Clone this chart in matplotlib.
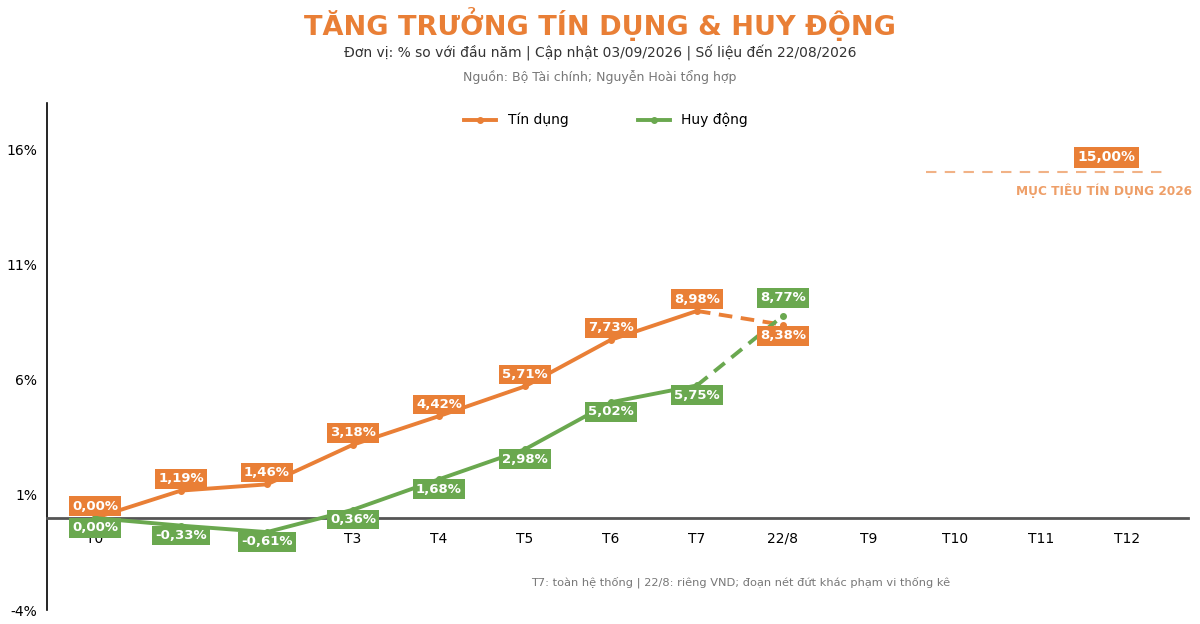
import matplotlib
matplotlib.use("Agg")
from matplotlib import pyplot as plt

months = ["T0", "T1", "T2", "T3", "T4", "T5", "T6", "T7", "22/8", "T9", "T10", "T11", "T12"]
tin_dung = [0.00, 1.19, 1.46, 3.18, 4.42, 5.71, 7.73, 8.98, 8.38]
huy_dong = [0.00, -0.33, -0.61, 0.36, 1.68, 2.98, 5.02, 5.75, 8.77]
muc_tieu = 15.00

ORANGE = "#E97F36"
GREEN = "#6AA84F"


def fmt(v):
    return f"{v:.2f}%".replace(".", ",")


fig = plt.figure(figsize=(12, 6.24), dpi=100)
ax = fig.add_axes([0.039, 0.022, 0.951, 0.813])

x = list(range(len(months)))
n_solid = 8  # T0..T7 la net lien, doan cuoi net dut

ax.plot(x[:n_solid], tin_dung[:n_solid], color=ORANGE, lw=2.8, marker="o", ms=4, label="Tín dụng", zorder=3)
ax.plot(x[n_solid - 1:len(tin_dung)], tin_dung[n_solid - 1:], color=ORANGE, lw=2.8, ls=(0, (3.5, 2.2)),
        marker="o", ms=4, markevery=[1], zorder=3)
ax.plot(x[:n_solid], huy_dong[:n_solid], color=GREEN, lw=2.8, marker="o", ms=4, label="Huy động", zorder=3)
ax.plot(x[n_solid - 1:len(huy_dong)], huy_dong[n_solid - 1:], color=GREEN, lw=2.8, ls=(0, (3.5, 2.2)),
        marker="o", ms=4, markevery=[1], zorder=3)

# nhan gia tri
for i, v in enumerate(tin_dung):
    above = i != len(tin_dung) - 1
    ax.annotate(fmt(v), (i, v), xytext=(0, 8.5 if above else -8), textcoords="offset points",
                ha="center", va="center", color="white", fontsize=9.5, fontweight="bold",
                bbox=dict(boxstyle="square,pad=0.25", fc=ORANGE, ec="none"), zorder=5)
for i, v in enumerate(huy_dong):
    above = i == len(huy_dong) - 1
    ax.annotate(fmt(v), (i, v), xytext=(0, 13 if above else -7), textcoords="offset points",
                ha="center", va="center", color="white", fontsize=9.5, fontweight="bold",
                bbox=dict(boxstyle="square,pad=0.25", fc=GREEN, ec="none"), zorder=5)

# muc tieu
ax.axhline(muc_tieu, xmin=0.77, xmax=0.98, color=ORANGE, alpha=0.6, lw=1.5, ls=(0, (5, 4)))
ax.text(11.76, muc_tieu + 0.65, fmt(muc_tieu), ha="center", va="center", color="white",
        fontsize=10, fontweight="bold", bbox=dict(boxstyle="square,pad=0.25", fc=ORANGE, ec="none"))
ax.text(12.76, muc_tieu - 0.8, "MỤC TIÊU TÍN DỤNG 2026", ha="right", va="center", color=ORANGE,
        alpha=0.75, fontsize=8.7, fontweight="bold", clip_on=False)

ax.set_xlim(-0.56, 12.71)
ax.set_ylim(-4, 18)
ax.set_xticks(x)
ax.set_xticklabels(months, fontsize=10)
ax.set_yticks([-4, 1, 6, 11, 16])
ax.set_yticklabels(["-4%", "1%", "6%", "11%", "16%"], fontsize=10)
ax.tick_params(axis="y", length=0, pad=7)
ax.tick_params(axis="x", length=0, pad=10)

ax.spines["top"].set_visible(False)
ax.spines["right"].set_visible(False)
ax.spines["bottom"].set_position(("data", 0))
ax.spines["bottom"].set_color("#555555")
ax.spines["bottom"].set_linewidth(2)
ax.spines["left"].set_color("black")
ax.spines["left"].set_linewidth(1.2)

ax.legend(loc="upper center", bbox_to_anchor=(0.49, 1.005), ncol=2, frameon=False, fontsize=10,
          handlelength=2.3, columnspacing=5)

fig.text(0.5, 0.962, "TĂNG TRƯỞNG TÍN DỤNG & HUY ĐỘNG", ha="center", va="center", color=ORANGE,
         fontsize=19.5, fontweight="bold")
fig.text(0.5, 0.915, "Đơn vị: % so với đầu năm | Cập nhật 03/09/2026 | Số liệu đến 22/08/2026",
         ha="center", va="center", color="#333333", fontsize=10)
fig.text(0.5, 0.876, "Nguồn: Bộ Tài chính; Nguyễn Hoài tổng hợp", ha="center", va="center",
         color="#777777", fontsize=9)
fig.text(0.617, 0.067, "T7: toàn hệ thống | 22/8: riêng VND; đoạn nét đứt khác phạm vi thống kê",
         ha="center", va="center", color="#777777", fontsize=8.2)

fig.savefig("out.png", dpi=100)
